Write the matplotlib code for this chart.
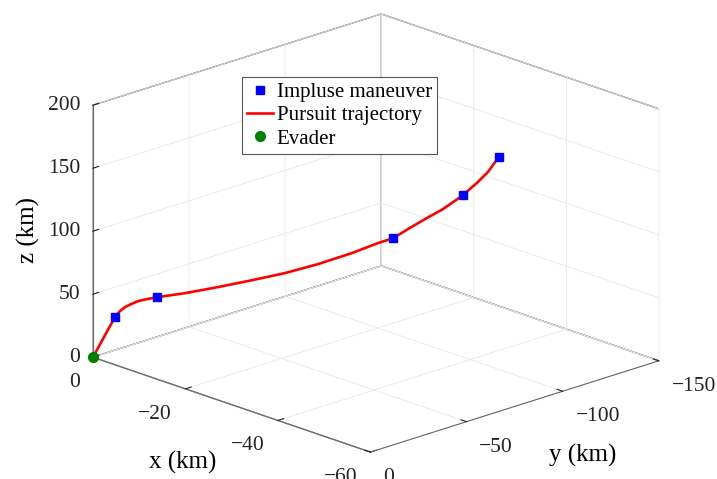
import matplotlib
matplotlib.use('Agg')
import matplotlib.pyplot as plt
import numpy as np
from mpl_toolkits.mplot3d import proj3d

plt.rcParams['font.family'] = ['Liberation Serif', 'DejaVu Serif']

# Pursuit trajectory (km)
traj_x = [0, -2.17, -2.66, -3.15, -3.74, -4.43, -5.32, -6.30, -9.06, -12.3, -15.7, -18.9,
          -22.2, -25.5, -28.1, -29.6, -31.2, -32.9, -34.5, -36.5, -37.1, -37.8, -38.9, -39.4, -40.0]
traj_y = [0, -6.23, -7.65, -9.06, -10.8, -12.7, -15.3, -18.1, -26.1, -35.4, -45.0, -54.4,
          -63.7, -73.4, -80.7, -85.0, -89.8, -94.6, -99.1, -104.8, -106.8, -108.8, -111.9, -113.3, -115.0]
traj_z = [0, 31.5, 36.2, 39.3, 41.6, 43.9, 45.4, 46.8, 49.6, 54.0, 59.1, 64.2,
          71.0, 79.2, 86.9, 90.6, 98.4, 106.1, 113.0, 123.9, 128.5, 133.2, 141.8, 147.3, 153.6]

# Impulse maneuvers
imp_x = [-2.17, -6.30, -29.6, -36.5, -40.0]
imp_y = [-6.23, -18.1, -85.0, -104.8, -115.0]
imp_z = [31.5, 46.8, 90.6, 123.9, 153.6]

# Evader
ev_x = [0]
ev_y = [0]
ev_z = [0]

x_ticks = [-60, -40, -20, 0]
y_ticks = [-150, -100, -50, 0]
z_ticks = [0, 50, 100, 150, 200]

W, H = 717, 479
fig = plt.figure(figsize=(W / 100, H / 100), dpi=100)
ax = fig.add_axes([0.1, 0.1, 0.8, 0.8], projection='3d')
ax.set_proj_type('ortho')
ax.view_init(elev=19.2, azim=136.1)
ax.set_box_aspect((1.5, 1.5, 1))

ax.plot(traj_x, traj_y, traj_z, color='#ff0000', lw=1.9, label='Pursuit trajectory', zorder=2)
ax.plot(imp_x, imp_y, imp_z, ls='none', marker='s', ms=5.5, color='#0000ff',
        label='Impluse maneuver', zorder=3)
ax.plot(ev_x, ev_y, ev_z, ls='none', marker='o', ms=7, color='#008000', label='Evader', zorder=4)

ax.set_xlim(-60, 0)
ax.set_ylim(-150, 0)
ax.set_zlim(0, 200)
ax.set_xticks(x_ticks)
ax.set_yticks(y_ticks)
ax.set_zticks(z_ticks)
ax.zaxis.set_ticks_position('upper')

for axis in (ax.xaxis, ax.yaxis, ax.zaxis):
    axis.set_pane_color((1, 1, 1, 1))
    axis.pane.set_edgecolor('#5a5a5a')
    axis.pane.set_linewidth(0.9)
    axis._axinfo['grid'].update(color='#e6e6e6', linewidth=0.6)
    axis._axinfo['axisline'].update(color='#666666', linewidth=0.8)
    axis._axinfo['tick'].update(inward_factor=0.0, outward_factor=0.25,
                                linewidth={True: 0.8, False: 0.5})
    axis.line.set_color('#666666')

ax.tick_params(axis='x', labelsize=15.5, colors='#222222', pad=2.5)
ax.tick_params(axis='y', labelsize=15.5, colors='#222222', pad=2.5)
ax.tick_params(axis='z', labelsize=15.5, colors='#222222', pad=-3)
for t in ax.get_xticklabels():
    t.set_horizontalalignment('right')
for t in ax.get_yticklabels():
    t.set_horizontalalignment('left')
for t in ax.get_zticklabels():
    t.set_horizontalalignment('right')
    t.set_verticalalignment('center')

fig.text(183 / W, 1 - 462 / H, 'x (km)', fontsize=18, ha='center', va='center')
fig.text(583 / W, 1 - 455 / H, 'y (km)', fontsize=18, ha='center', va='center')
fig.text(28 / W, 1 - 230 / H, 'z (km)', fontsize=18, ha='center', va='center', rotation=90)

h, l = ax.get_legend_handles_labels()
order = [1, 0, 2]
leg = ax.legend([h[i] for i in order], [l[i] for i in order], loc='upper left',
                bbox_to_anchor=(242 / W, 1 - 77 / H), bbox_transform=fig.transFigure,
                borderaxespad=0, fontsize=15, fancybox=False, framealpha=1,
                edgecolor='#555555', labelspacing=0.18, handlelength=1.25,
                handletextpad=0.15, borderpad=0.26)
leg.get_frame().set_linewidth(0.8)

# Fit the plot box to the reference layout (left, right, top corners)
corners = [(0, 0, 0), (-60, -150, 0), (0, -150, 200)]
targets = np.array([[93, H - 357], [659, H - 361], [381, H - 14]], float)
for _ in range(2):
    fig.canvas.draw()
    pos = ax.get_position()
    S0 = pos.width * W
    c0 = np.array([(pos.x0 + pos.width / 2) * W, (pos.y0 + pos.height / 2) * H])
    q = []
    for (cx, cy, cz) in corners:
        px, py, _ = proj3d.proj_transform(cx, cy, cz, ax.M)
        q.append((ax.transData.transform((px, py)) - c0) / S0)
    q = np.array(q)
    A = []
    b = []
    for qi, ti in zip(q, targets):
        A.append([qi[0], 1, 0]); b.append(ti[0])
        A.append([qi[1], 0, 1]); b.append(ti[1])
    S, cx_, cy_ = np.linalg.lstsq(np.array(A), np.array(b), rcond=None)[0]
    ax.set_position([(cx_ - S / 2) / W, (cy_ - S / 2) / H, S / W, S / H])

fig.savefig('out.png', dpi=100)
